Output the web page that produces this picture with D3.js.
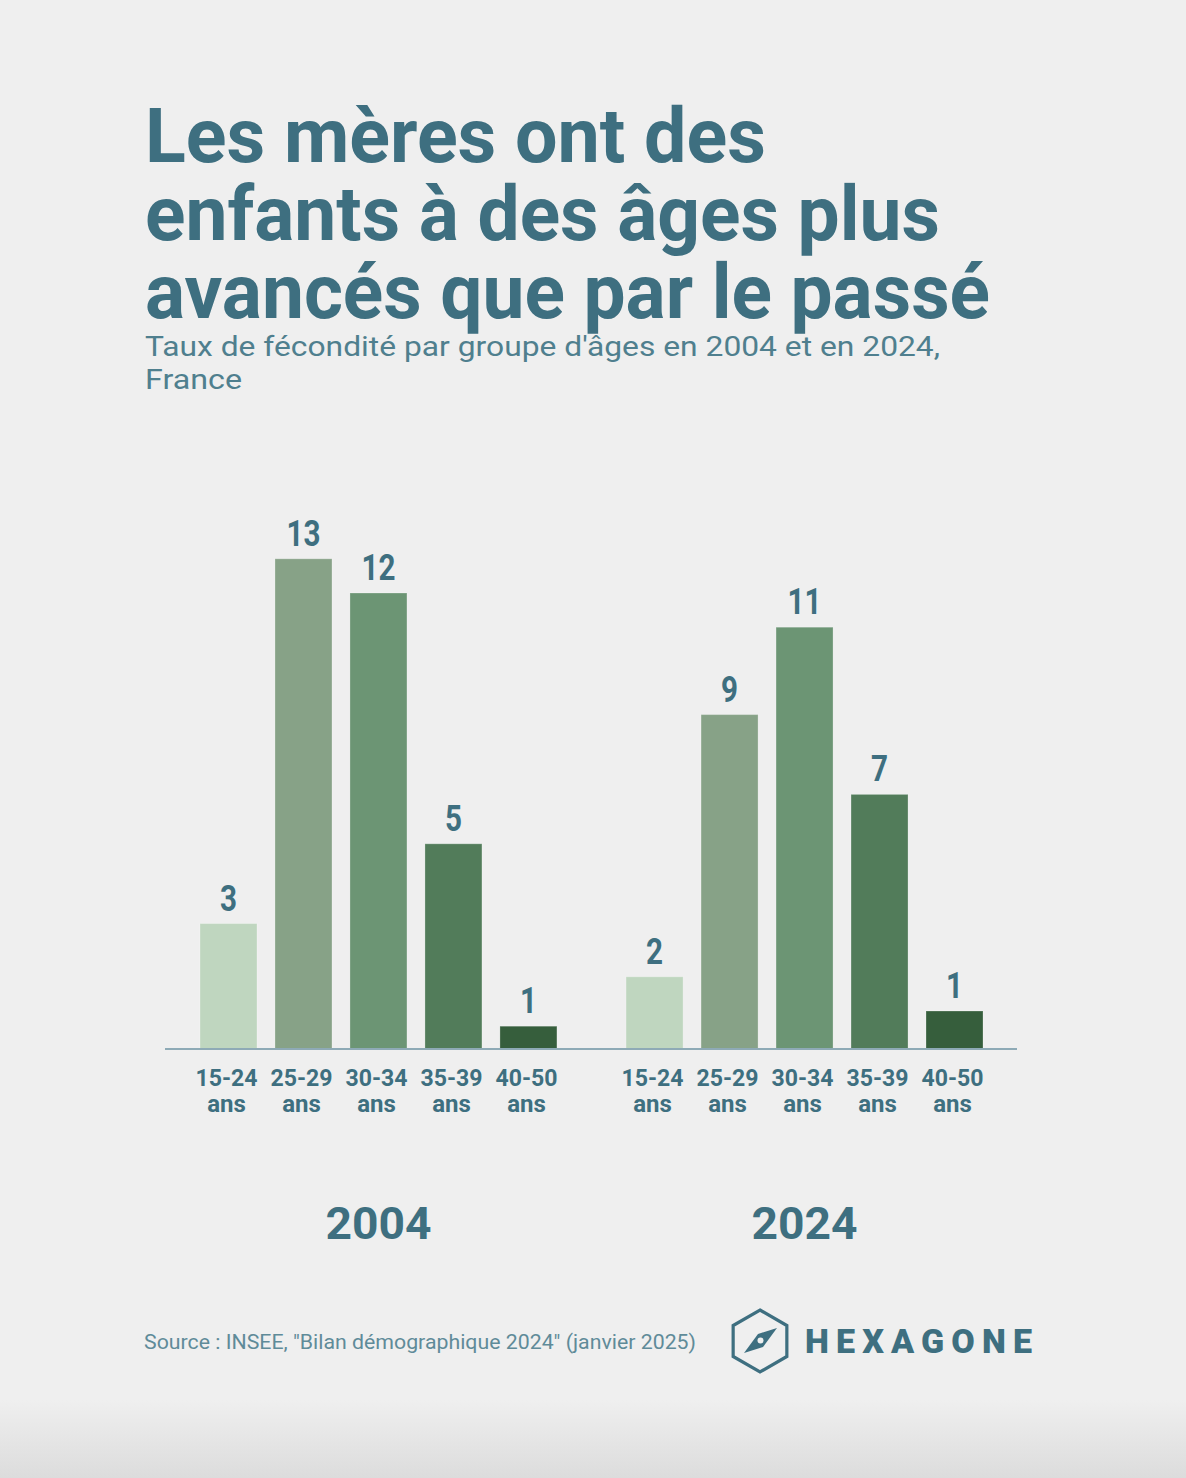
<!DOCTYPE html>
<html>
<head>
<meta charset="utf-8">
<script src="https://cdn.jsdelivr.net/npm/d3@7"></script>
<style>
  html, body { margin: 0; padding: 0; background: #efefef; }
  svg { display: block; }
</style>
</head>
<body>
<svg id="chart" width="1186" height="1478"></svg>
<script>
// data (rates in %, labels are rounded)
const years = ["2004", "2024"];
const ageGroups = ["15-24", "25-29", "30-34", "35-39", "40-50"];
const rates2004 = [3.3, 12.9, 12.0, 5.4, 0.6];
const rates2024 = [1.9, 8.8, 11.1, 6.7, 1.0];
const barColors = ["#bfd6bf", "#87a287", "#6c9574", "#527c5a", "#365e3c"];

const titleLines = ["Les mères ont des", "enfants à des âges plus", "avancés que par le passé"];
const subtitleLines = ["Taux de fécondité par groupe d'âges en 2004 et en 2024,", "France"];
const sourceText = "Source : INSEE, \"Bilan démographique 2024\" (janvier 2025)";

const teal = "#3e6f80";
const font = "Roboto, 'Noto Sans', sans-serif";

const svg = d3.select("#chart");

// background, with the darker fade at the bottom
const defs = svg.append("defs");
const grad = defs.append("linearGradient").attr("id", "fade")
    .attr("x1", 0).attr("y1", 0).attr("x2", 0).attr("y2", 1);
grad.append("stop").attr("offset", "0%").attr("stop-color", "#efefef");
grad.append("stop").attr("offset", "100%").attr("stop-color", "#dcdcdc");
svg.append("rect").attr("width", 1186).attr("height", 1478).attr("fill", "#efefef");
svg.append("rect").attr("y", 1400).attr("width", 1186).attr("height", 78).attr("fill", "url(#fade)");

// squeeze a text to the width it has in the picture (the original font is condensed)
function fit(sel, w) {
    sel.attr("textLength", w).attr("lengthAdjust", "spacingAndGlyphs");
}

// title
const titleWidths = [621, 795, 845];
titleLines.forEach((t, i) => {
    svg.append("text")
        .attr("x", 145).attr("y", 162 + i * 78)
        .attr("fill", teal)
        .style("font-family", font).style("font-weight", 700).style("font-size", "76px")
        .text(t)
        .call(fit, titleWidths[i]);
});

// subtitle
const subWidths = [795, 97];
subtitleLines.forEach((t, i) => {
    svg.append("text")
        .attr("x", 145).attr("y", 356 + i * 33)
        .attr("fill", "#4f7f8e")
        .style("font-family", font).style("font-weight", 400).style("font-size", "27px")
        .text(t)
        .call(fit, subWidths[i]);
});

// scales
const baseY = 1049;
const y = d3.scaleLinear().domain([0, 14]).range([baseY, baseY - 14 * 38]);
const xGroup = d3.scaleBand().domain(years).range([191, 992]).paddingInner(0.12);
const xAge = d3.scaleBand().domain(ageGroups).range([0, xGroup.bandwidth()])
    .paddingInner(0.24).paddingOuter(0.12);
const color = d3.scaleOrdinal().domain(ageGroups).range(barColors);
const fmt = d3.format(".0f");

const series = [rates2004, rates2024];

years.forEach((yr, gi) => {
    const g = svg.append("g").attr("transform", `translate(${xGroup(yr)},0)`);
    const rows = ageGroups.map((a, i) => ({ age: a, value: series[gi][i] }));

    g.selectAll("rect.bar").data(rows).enter().append("rect")
        .attr("class", "bar")
        .attr("x", d => xAge(d.age))
        .attr("y", d => y(d.value))
        .attr("width", xAge.bandwidth())
        .attr("height", d => baseY - y(d.value))
        .attr("fill", d => color(d.age))
        .attr("stroke", "#ffffff").attr("stroke-opacity", 0.25).attr("stroke-width", 1);

    g.selectAll("text.value").data(rows).enter().append("text")
        .attr("class", "value")
        .attr("x", d => xAge(d.age) + xAge.bandwidth() / 2)
        .attr("y", d => y(d.value) - 13)
        .attr("text-anchor", "middle")
        .attr("fill", teal)
        .style("font-family", font).style("font-weight", 700).style("font-size", "37px")
        .each(function (d) {
            const s = fmt(d.value);
            d3.select(this).text(s).call(fit, s.length * 17);
        });

    // category ticks with a second line "ans"
    const axis = g.append("g")
        .attr("transform", `translate(0,${baseY})`)
        .call(d3.axisBottom(xAge).tickSize(0).tickSizeOuter(0));
    axis.select(".domain").remove();
    axis.selectAll(".tick text").each(function (d) {
        const t = d3.select(this).text(null)
            .attr("y", 0).attr("dy", null)
            .attr("fill", teal)
            .style("font-family", font).style("font-weight", 700).style("font-size", "24px");
        t.append("tspan").attr("x", -2).attr("y", 37).text(d)
            .call(fit, 62);
        t.append("tspan").attr("x", -2).attr("y", 63).text("ans");
    });

    // year under the group
    g.append("text")
        .attr("x", xGroup.bandwidth() / 2)
        .attr("y", 1239)
        .attr("text-anchor", "middle")
        .attr("fill", teal)
        .style("font-family", font).style("font-weight", 700).style("font-size", "45px")
        .text(yr)
        .call(fit, 106);
});

// baseline across both groups
svg.append("line")
    .attr("x1", 165).attr("x2", 1017)
    .attr("y1", baseY).attr("y2", baseY)
    .attr("stroke", "#8eaab6").attr("stroke-width", 2);

// source
svg.append("text")
    .attr("x", 144).attr("y", 1349)
    .attr("fill", "#5f8b99")
    .style("font-family", font).style("font-size", "20px")
    .text(sourceText)
    .call(fit, 552);

// logo
const logo = svg.append("g").attr("transform", "translate(760,1341)");
const r = 31;
const hex = d3.range(6).map(i => {
    const a = -Math.PI / 2 + i * Math.PI / 3;
    return [r * Math.cos(a), r * Math.sin(a)];
});
logo.append("path")
    .attr("d", d3.line()(hex) + "Z")
    .attr("fill", "none").attr("stroke", teal).attr("stroke-width", 3.2)
    .attr("stroke-linejoin", "miter");
logo.append("path")
    .attr("d", "M-16,12 L-2,-7 L17,-13 L3,6 Z")
    .attr("fill", teal);
logo.append("circle").attr("r", 3).attr("cx", 0.5).attr("cy", -0.5).attr("fill", "#efefef");

// wide-set wordmark: letters a little stretched, spacing fills the rest
svg.append("text")
    .attr("x", 805).attr("y", 1353)
    .attr("fill", teal)
    .style("font-family", font).style("font-weight", 900).style("font-size", "34px")
    .style("letter-spacing", "9px")
    .text("HEXAGONE")
    .attr("textLength", 236).attr("lengthAdjust", "spacing");
</script>
</body>
</html>
